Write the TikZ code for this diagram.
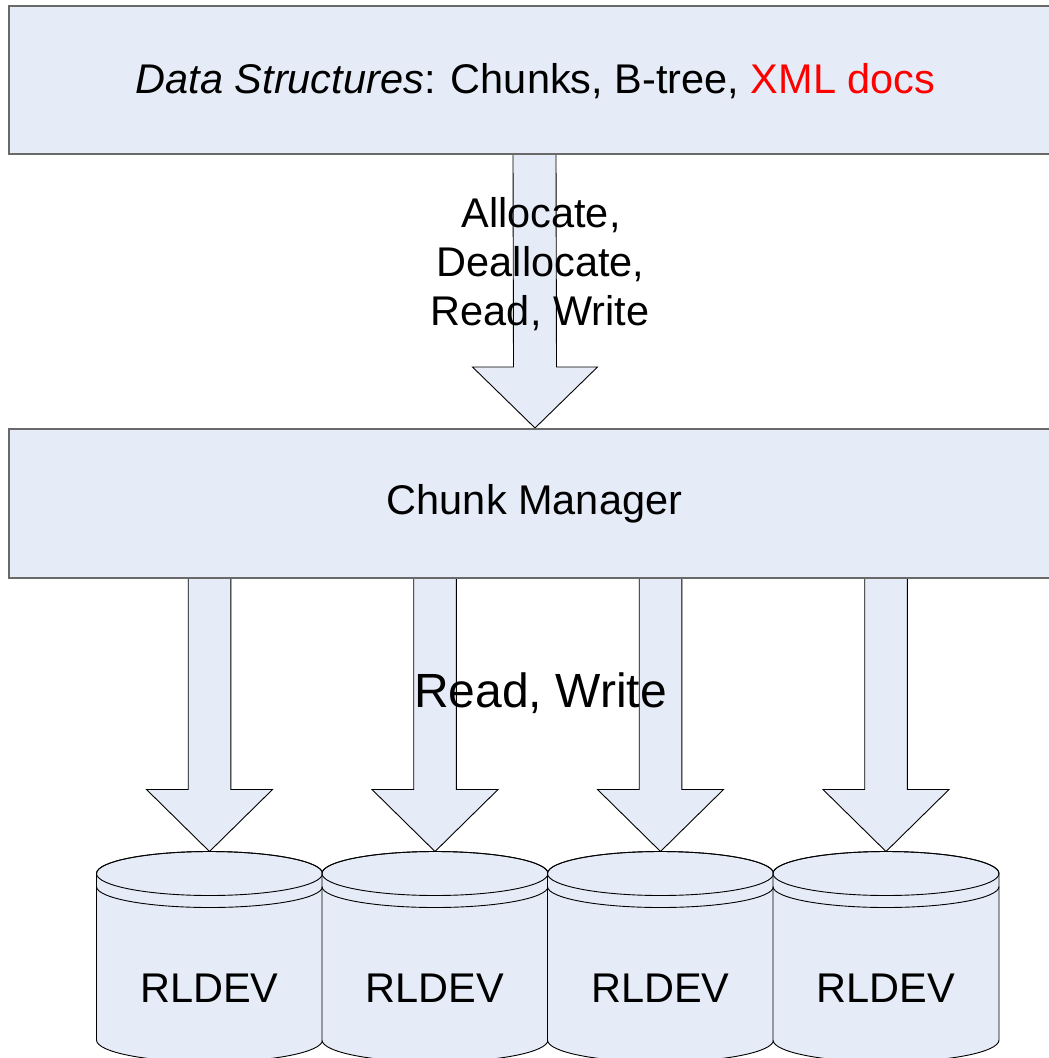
\documentclass[tikz,border=0pt]{standalone}
\usepackage{fontspec}
\setmainfont{Liberation Sans}
\usetikzlibrary{calc}

\definecolor{panelfill}{RGB}{230,236,247}
\definecolor{panelline}{RGB}{105,105,105}
\definecolor{xmlred}{RGB}{255,0,0}

% Block arrow from a tail point down to a tip point:
% #1 tail, #2 tip, #3 half shaft width, #4 half head width, #5 head length
\newcommand\blockarrow[5]{%
  \draw[arrowbody] ($(#1)+(-#3,0)$) -- ($(#2)+(-#3,-#5)$) -- ($(#2)+(-#4,-#5)$)
    -- (#2) -- ($(#2)+(#4,-#5)$) -- ($(#2)+(#3,-#5)$) -- ($(#1)+(#3,0)$);
}

% Disk drum centred at x = #1
\newcommand\drum[1]{%
  \draw[drumbody] (#1-113,873.5) -- (#1-113,1040)
    arc[start angle=180, end angle=360, x radius=113pt, y radius=22pt]
    -- (#1+113,873.5)
    arc[start angle=0, end angle=180, x radius=113pt, y radius=22pt] -- cycle;
  \draw[drumline] (#1,873.5) ellipse[x radius=113pt, y radius=22pt];
  \draw[drumline] (#1-113,886.5)
    arc[start angle=180, end angle=360, x radius=113pt, y radius=21pt];
}

\begin{document}
\begin{tikzpicture}[x=1pt, y=-1pt,
  panel/.style={draw=panelline, line width=1.6pt, fill=panelfill,
    minimum width=1052pt, inner sep=0pt, outer sep=0pt},
  arrowbody/.style={draw=black, line width=0.9pt, fill=panelfill, line join=miter},
  drumbody/.style={draw=black, line width=0.9pt, fill=panelfill},
  drumline/.style={draw=black, line width=0.9pt},
  lbl/.style={font=\fontsize{41.5}{48}\selectfont, inner sep=0pt, anchor=base},
  biglbl/.style={font=\fontsize{48}{56}\selectfont, inner sep=0pt, anchor=base}]

\useasboundingbox (0,0) rectangle (1049,1058);
\clip (0,0) rectangle (1049,1058);

% anchor points for the arrows
\coordinate (dsout) at (534.5,154);
\coordinate (cmin)  at (535,428);
\foreach \i/\cx in {1/209.5, 2/435, 3/660.5, 4/886} {
  \coordinate (cmout\i) at (\cx,578);
  \coordinate (drumtop\i) at (\cx,851.5);
}

% arrows
\blockarrow{dsout}{cmin}{21.5}{62.5}{61}
\foreach \i in {1,...,4} {
  \blockarrow{cmout\i}{drumtop\i}{21.3}{63}{62}
}

% layers
\node[panel, minimum height=148pt] (ds) at (535,80) {};
\node[lbl] (dstext) at (535.5,93.3)
  {\textit{Data Structures}: Chunks, B-tree, \textcolor{xmlred}{XML docs}};

\node[panel, minimum height=149pt] (cm) at (535,503.5) {};
\node[lbl] (cmtext) at (534.5,514.3) {Chunk Manager};

% operation labels
\node[lbl] (op1) at (541,227.3) {Allocate,};
\node[lbl] (op2) at (540.5,276.7) {Deallocate,};
\node[lbl] (op3) at (540,325) {Read, Write};
\node[biglbl] (rw) at (540.5,707) {Read, Write};

% devices
\foreach \i/\cx in {1/209.5, 2/435, 3/660.5, 4/886} {
  \drum{\cx}
  \node[lbl] (dev\i) at (\cx,1002.7) {RLDEV};
}
\end{tikzpicture}
\end{document}
